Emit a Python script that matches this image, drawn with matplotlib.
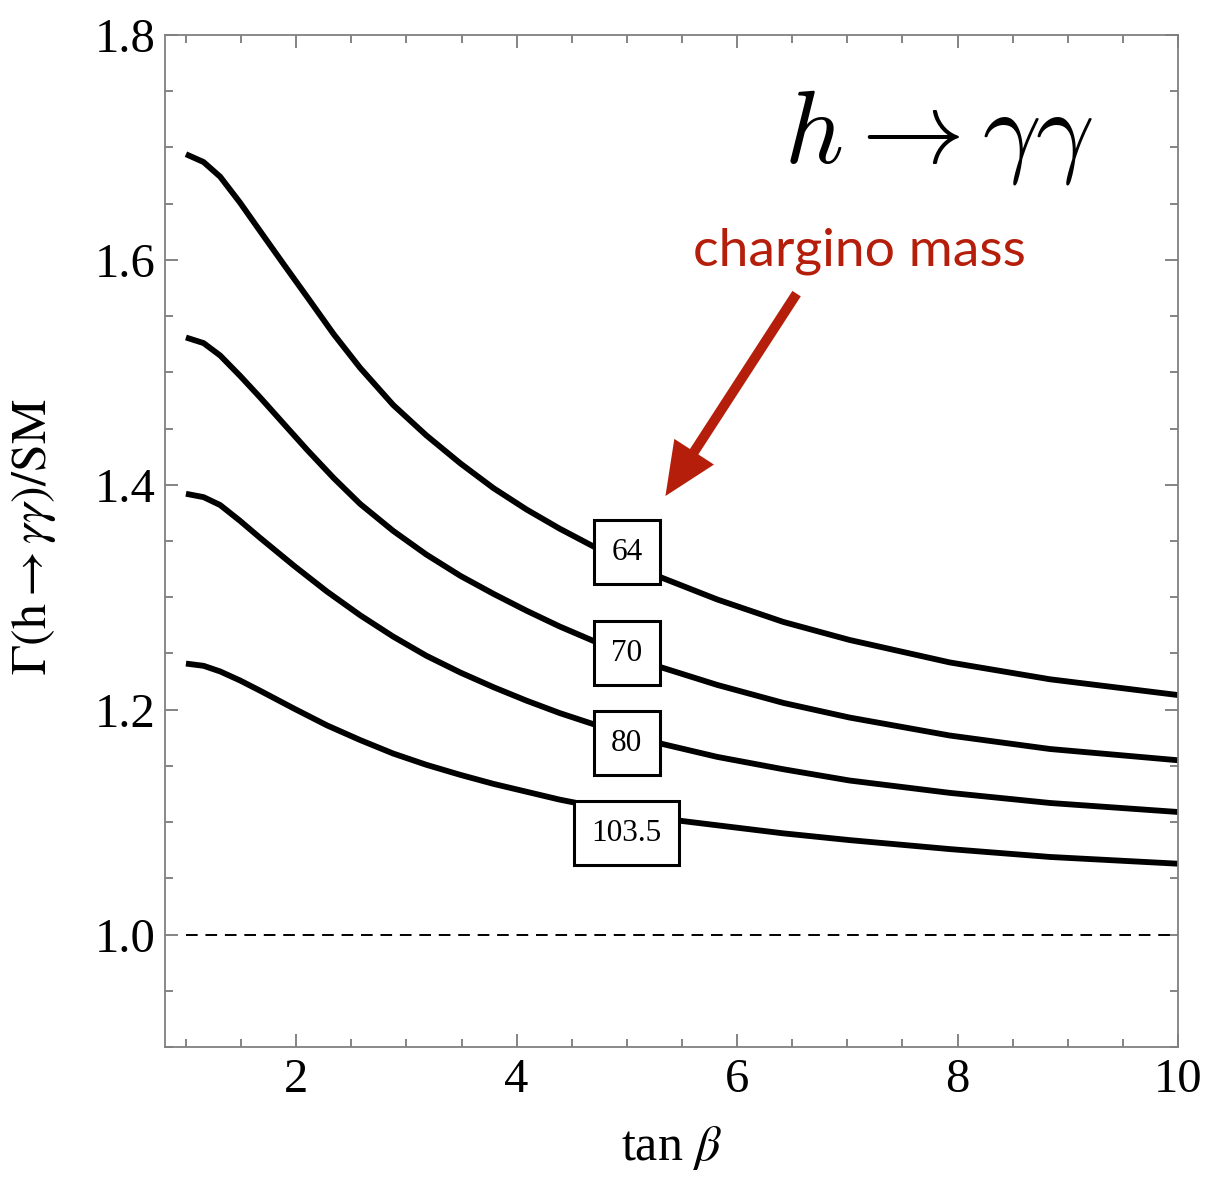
import matplotlib
matplotlib.use("Agg")
import matplotlib.pyplot as plt
from matplotlib.ticker import MultipleLocator

# -------------------------
# Datos
# -------------------------
masses = ["64", "70", "80", "103.5"]

x_64 = [1.0, 1.16, 1.31, 1.49, 1.67, 1.88, 2.10, 2.34, 2.58, 2.88, 3.18, 3.49, 3.79, 4.09, 4.39, 4.70, 5.0, 5.30, 5.82, 6.42, 7.02, 7.93, 8.84, 10.0]
y_64 = [1.694, 1.687, 1.674, 1.651, 1.626, 1.597, 1.567, 1.534, 1.504, 1.471, 1.444, 1.419, 1.397, 1.378, 1.361, 1.345, 1.331, 1.318, 1.298, 1.278, 1.262, 1.242, 1.227, 1.213]

x_70 = [1.0, 1.16, 1.31, 1.49, 1.67, 1.88, 2.10, 2.34, 2.58, 2.88, 3.18, 3.49, 3.79, 4.09, 4.39, 4.70, 5.0, 5.30, 5.82, 6.42, 7.02, 7.93, 8.84, 10.0]
y_70 = [1.531, 1.526, 1.515, 1.497, 1.478, 1.455, 1.431, 1.406, 1.383, 1.359, 1.338, 1.319, 1.303, 1.288, 1.274, 1.261, 1.249, 1.238, 1.222, 1.206, 1.193, 1.177, 1.165, 1.155]

x_80 = [1.0, 1.16, 1.31, 1.49, 1.67, 1.98, 2.28, 2.58, 2.88, 3.18, 3.49, 3.79, 4.09, 4.39, 4.70, 5.0, 5.30, 5.82, 6.42, 7.02, 7.93, 8.84, 10.0]
y_80 = [1.392, 1.389, 1.382, 1.368, 1.353, 1.328, 1.305, 1.284, 1.265, 1.248, 1.233, 1.220, 1.208, 1.197, 1.187, 1.178, 1.170, 1.158, 1.147, 1.137, 1.126, 1.117, 1.109]

x_103 = [1.0, 1.16, 1.31, 1.49, 1.67, 1.98, 2.28, 2.58, 2.88, 3.18, 3.49, 3.79, 4.09, 4.39, 4.70, 5.0, 5.50, 6.42, 7.02, 7.93, 8.84, 10.0]
y_103 = [1.241, 1.239, 1.234, 1.226, 1.217, 1.201, 1.186, 1.173, 1.161, 1.151, 1.142, 1.134, 1.127, 1.120, 1.114, 1.109, 1.101, 1.090, 1.084, 1.076, 1.069, 1.063]

curves_x = [x_64, x_70, x_80, x_103]
curves_y = [y_64, y_70, y_80, y_103]

# posición de las etiquetas (tan beta, valor)
label_x = [5.0, 5.0, 5.0, 5.0]
label_y = [1.340, 1.250, 1.170, 1.090]

# -------------------------
# Figura
# -------------------------
plt.rcParams["font.family"] = ["Liberation Serif", "DejaVu Serif"]
plt.rcParams["mathtext.fontset"] = "stix"

fig = plt.figure(figsize=(12.09, 11.81), dpi=100)
ax = fig.add_axes([165 / 1209, 1 - 1047 / 1181, (1178 - 165) / 1209, (1047 - 35) / 1181])

for xs, ys in zip(curves_x, curves_y):
    ax.plot(xs, ys, color="black", lw=4.2, solid_capstyle="butt", solid_joinstyle="round", zorder=2)

# línea SM
ax.plot([1.0, 10.0], [1.0, 1.0], color="black", lw=1.4, dashes=(6, 4), zorder=2)

for lab, lx, ly in zip(masses, label_x, label_y):
    ax.text(lx, ly, lab, fontsize=22.5, ha="center", va="center", zorder=4,
            bbox=dict(boxstyle="square,pad=0.56", fc="white", ec="black", lw=2.2))

# título y anotación
ax.text(7.83, 1.709, r"$h \rightarrow \gamma\gamma$", fontsize=74, ha="center", va="center",
        math_fontfamily="cm")
ax.text(7.11, 1.608, "chargino mass", fontsize=38.5, color="#b51e0a", ha="center", va="center",
        family=["Lato", "DejaVu Sans"])
ax.annotate("", xy=(5.35, 1.39), xytext=(6.54, 1.57),
            arrowprops=dict(arrowstyle="simple,head_length=3.8,head_width=3.4,tail_width=0.72",
                            fc="#b51e0a", ec="none", lw=0, shrinkA=0, shrinkB=0, mutation_scale=10))

ax.set_xlim(0.81, 10)
ax.set_ylim(0.9, 1.8)
ax.xaxis.set_major_locator(MultipleLocator(2))
ax.xaxis.set_minor_locator(MultipleLocator(0.5))
ax.yaxis.set_major_locator(MultipleLocator(0.2))
ax.yaxis.set_minor_locator(MultipleLocator(0.05))
ax.yaxis.set_major_formatter(plt.FuncFormatter(lambda v, p: f"{v:.1f}"))
ax.xaxis.set_major_formatter(plt.FuncFormatter(lambda v, p: f"{v:.0f}"))

ax.tick_params(which="both", direction="in", top=True, right=True, color="#707070", width=1.2)
ax.tick_params(which="major", length=9.6, labelsize=35)
ax.tick_params(axis="y", which="major", pad=7)
ax.tick_params(axis="x", which="major", pad=8)
ax.tick_params(which="minor", length=5.5)
for s in ax.spines.values():
    s.set_color("#808080")
    s.set_linewidth(1.3)

ax.set_xlabel(r"tan $\beta$", fontsize=36, labelpad=16)
ax.set_ylabel(r"$\Gamma(\mathrm{h}\rightarrow\gamma\gamma)/\mathrm{SM}$", fontsize=36)
ax.yaxis.set_label_coords(-0.1056, 0.504)

fig.savefig("out.png", dpi=100)
